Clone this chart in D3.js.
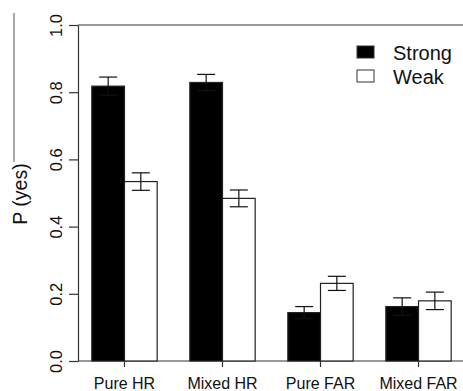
<!DOCTYPE html>
<html>
<head>
<meta charset="utf-8">
<script src="https://cdn.jsdelivr.net/npm/d3@7"></script>
<style>
  body { margin: 0; background: #fff; }
  svg { display: block; font-family: 'Liberation Sans', Arial, sans-serif; }
</style>
</head>
<body>
<div id="chart"></div>
<script>
const groups = ['Pure HR', 'Mixed HR', 'Pure FAR', 'Mixed FAR']
const series = ['Strong', 'Weak']
const strong = [0.818, 0.829, 0.144, 0.162]
const strongErr = [0.027, 0.024, 0.018, 0.026]
const weak = [0.534, 0.484, 0.231, 0.179]
const weakErr = [0.026, 0.025, 0.021, 0.026]
const yTicks = [0, 0.2, 0.4, 0.6, 0.8, 1.0]

const width = 463
const height = 391
const plotLeft = 78
const plotTop = 25
const plotBottom = 361

const svg = d3.select('#chart').append('svg')
  .attr('width', width)
  .attr('height', height)

// scales
const y = d3.scaleLinear().domain([0, 1]).range([plotBottom, plotTop])
const x = d3.scaleBand()
  .domain(groups)
  .range([plotLeft, 465])
  .paddingInner(1 / 3)
  .paddingOuter(0.141)
const xs = d3.scaleBand().domain(series).range([0, x.bandwidth()])

const rows = groups.map((g, i) => [
  { g, s: 'Strong', v: strong[i], e: strongErr[i] },
  { g, s: 'Weak', v: weak[i], e: weakErr[i] }
]).flat()

// frame lines
svg.append('line')
  .attr('x1', plotLeft).attr('x2', width)
  .attr('y1', plotTop).attr('y2', plotTop)
  .attr('stroke', '#333').attr('stroke-width', 1.2)
svg.append('line')
  .attr('x1', plotLeft).attr('x2', width)
  .attr('y1', plotBottom).attr('y2', plotBottom)
  .attr('stroke', '#333').attr('stroke-width', 1.2)
svg.append('line')
  .attr('x1', 14).attr('x2', 14)
  .attr('y1', 13).attr('y2', 162)
  .attr('stroke', '#555').attr('stroke-width', 1)

// bars
svg.append('g').selectAll('rect')
  .data(rows)
  .enter().append('rect')
  .attr('x', d => x(d.g) + xs(d.s))
  .attr('y', d => y(d.v))
  .attr('width', xs.bandwidth())
  .attr('height', d => y(0) - y(d.v))
  .attr('fill', d => d.s === 'Strong' ? '#000' : '#fff')
  .attr('stroke', '#222')
  .attr('stroke-width', 1.2)

// error bars
const eb = svg.append('g').attr('stroke', '#111').attr('stroke-width', 1.2)
rows.forEach(d => {
  const cx = x(d.g) + xs(d.s) + xs.bandwidth() / 2
  eb.append('line')
    .attr('x1', cx).attr('x2', cx)
    .attr('y1', y(d.v - d.e)).attr('y2', y(d.v + d.e))
  ;[d.v - d.e, d.v + d.e].forEach(v => {
    eb.append('line')
      .attr('x1', cx - 9).attr('x2', cx + 9)
      .attr('y1', y(v)).attr('y2', y(v))
  })
})

// y axis
const yAxis = svg.append('g')
  .attr('transform', `translate(${plotLeft},0)`)
  .call(d3.axisLeft(y).tickValues(yTicks).tickFormat(d3.format('.1f')).tickSize(9).tickSizeOuter(0))
yAxis.select('.domain').attr('stroke', '#333').attr('stroke-width', 1.2)
yAxis.selectAll('.tick line').attr('stroke', '#333').attr('stroke-width', 1.2)
yAxis.selectAll('.tick text')
  .attr('x', null).attr('dy', null)
  .attr('transform', 'translate(-16,0) rotate(-90)')
  .attr('text-anchor', 'middle')
  .attr('font-size', 16.5)
  .attr('font-family', 'Liberation Sans, Arial, sans-serif')
  .attr('fill', '#111')

// x axis
const xAxis = svg.append('g')
  .attr('transform', `translate(0,${plotBottom})`)
  .call(d3.axisBottom(x).tickSize(6).tickSizeOuter(0))
xAxis.select('.domain').remove()
xAxis.selectAll('.tick line').attr('stroke', '#333').attr('stroke-width', 1.2)
xAxis.selectAll('.tick text')
  .attr('y', 17)
  .attr('font-size', 16)
  .attr('font-family', 'Liberation Sans, Arial, sans-serif')
  .attr('fill', '#111')

// y label
svg.append('text')
  .attr('transform', 'translate(27,194) rotate(-90)')
  .attr('text-anchor', 'middle')
  .attr('font-size', 19.5)
  .attr('fill', '#111')
  .text('P (yes)')

// legend
const legend = svg.append('g').attr('transform', 'translate(357,46)')
series.forEach((s, i) => {
  legend.append('rect')
    .attr('x', 0).attr('y', i * 24)
    .attr('width', 17).attr('height', 12)
    .attr('fill', s === 'Strong' ? '#000' : '#fff')
    .attr('stroke', '#333').attr('stroke-width', 1)
  legend.append('text')
    .attr('x', 36).attr('y', i * 24 + 14)
    .attr('font-size', 20)
    .attr('fill', '#111')
    .text(s)
})
</script>
</body>
</html>
